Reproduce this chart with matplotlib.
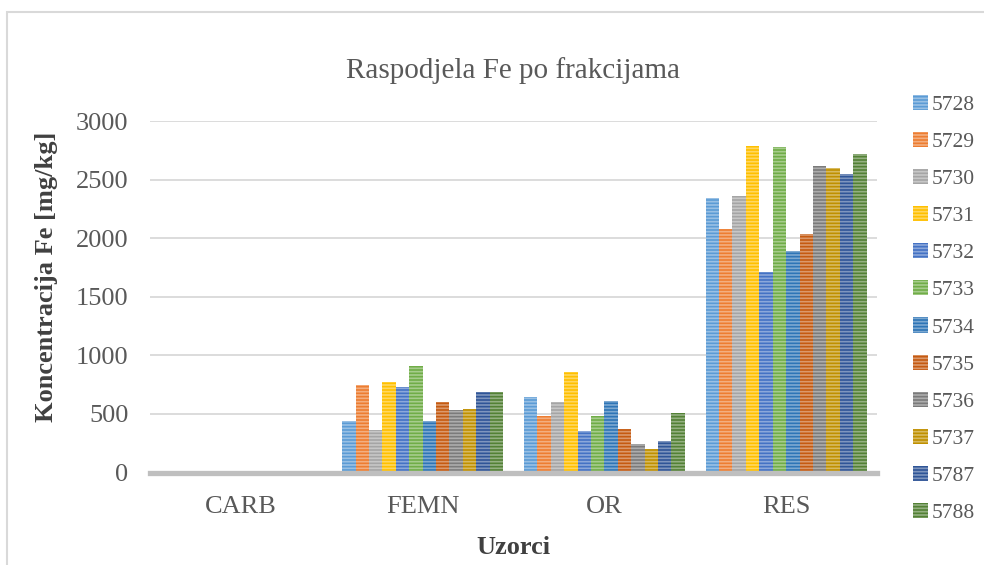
import matplotlib
matplotlib.use("Agg")
import matplotlib.pyplot as plt
import numpy as np
from matplotlib.patches import Rectangle

categories = ["CARB", "FEMN", "OR", "RES"]
series_names = ["5728", "5729", "5730", "5731", "5732", "5733",
                "5734", "5735", "5736", "5737", "5787", "5788"]
# values per series: [CARB, FEMN, OR, RES]
s5728 = [10, 440, 645, 2340]
s5729 = [10, 750, 485, 2080]
s5730 = [10, 360, 600, 2360]
s5731 = [10, 775, 855, 2790]
s5732 = [10, 730, 355, 1710]
s5733 = [10, 910, 485, 2780]
s5734 = [10, 440, 610, 1890]
s5735 = [10, 600, 375, 2035]
s5736 = [10, 530, 245, 2615]
s5737 = [10, 540, 200, 2600]
s5787 = [10, 690, 270, 2545]
s5788 = [10, 690, 508, 2720]
values = [s5728, s5729, s5730, s5731, s5732, s5733,
          s5734, s5735, s5736, s5737, s5787, s5788]
yticks = [0, 500, 1000, 1500, 2000, 2500, 3000]

colors = ["#5B9BD5", "#ED7D31", "#A5A5A5", "#FFC000", "#4472C4", "#70AD47",
          "#2E75B6", "#C55A11", "#7B7B7B", "#BF9000", "#2F5597", "#538135"]

plt.rcParams['font.family'] = ['Liberation Serif', 'DejaVu Serif']
plt.rcParams['hatch.linewidth'] = 1.2

fig = plt.figure(figsize=(9.84, 5.65), dpi=100)
ax = fig.add_axes([150/984, 1-472.6/565, 727/984, (472.6-121)/565])

# figure frame
fig.patches.append(Rectangle((7/984, -0.1), 1.2, 1-12/565+0.1, transform=fig.transFigure,
                             fill=False, edgecolor="#D9D9D9", linewidth=1.5))

x = np.arange(len(categories))
n = len(series_names)
w = 0.0738
handles = []
for i, (name, vals, c) in enumerate(zip(series_names, values, colors)):
    bars = ax.bar(x + (i - (n - 1) / 2) * w, vals, width=w, color=c,
                  edgecolor=(1, 1, 1, 0.38), linewidth=0, hatch='-----',
                  label=name, zorder=3)
    handles.append(bars)

ax.set_xlim(-0.5, 3.5)
ax.set_ylim(0, 3000)
ax.set_yticks(yticks)
ax.set_xticks(x)
ax.set_xticklabels(categories)
ax.tick_params(axis='both', length=0, labelsize=19, colors="#595959")
ax.tick_params(axis='x', pad=17)
ax.tick_params(axis='y', pad=15.5)
for s in ax.spines.values():
    s.set_visible(False)
ax.grid(axis='y', color="#D9D9D9", linewidth=1.3, zorder=0)
ax.set_axisbelow(True)
ax.axhline(0, color="#BFBFBF", linewidth=3.8, zorder=4, clip_on=False)

ax.set_title("Raspodjela Fe po frakcijama", fontsize=21, color="#595959", pad=31)
ax.set_ylabel("Koncentracija Fe [mg/kg]", fontsize=19, fontweight='bold', color="#404040")
ax.yaxis.set_label_coords(-0.127, 0.556)
ax.set_xlabel("Uzorci", fontsize=19, fontweight='bold', color="#404040", labelpad=13)

leg = fig.legend(handles=handles, loc='upper left', bbox_to_anchor=(913/984, 1-95/565),
                 frameon=False, fontsize=15.5, labelcolor="#595959",
                 handlelength=0.7, handleheight=0.7, handletextpad=0.15,
                 labelspacing=0.79, borderaxespad=0, borderpad=0)

fig.savefig("out.png", dpi=100)
